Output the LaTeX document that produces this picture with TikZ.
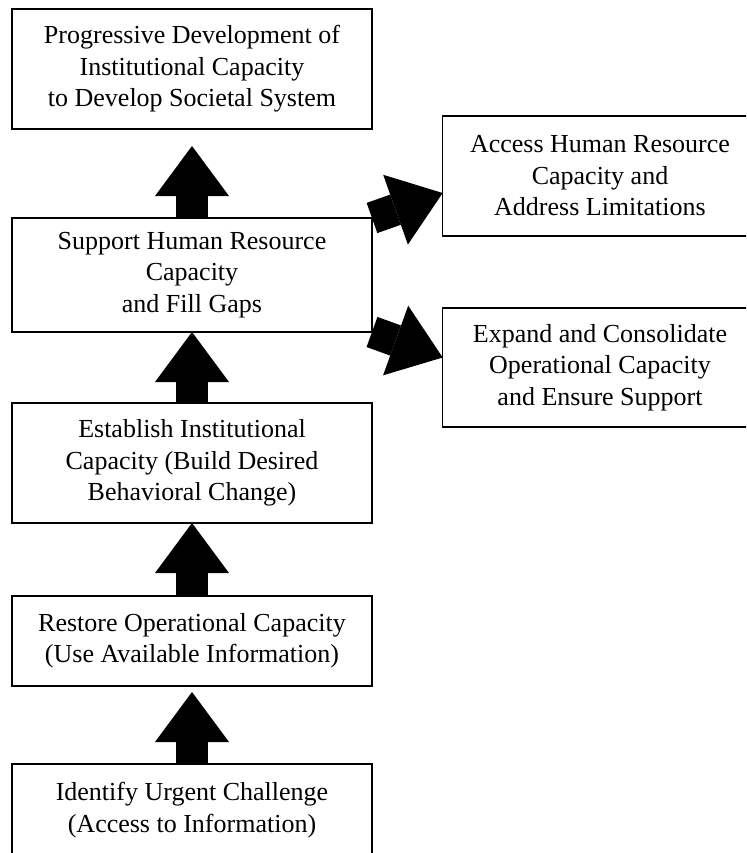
\documentclass[tikz,border=0pt]{standalone}
\usepackage{fontspec}
\setmainfont{Liberation Serif}
\usetikzlibrary{arrows.meta,positioning}

\begin{document}
\begin{tikzpicture}[x=.75pt, y=-.75pt,
    box/.style={draw, line width=1.2pt, inner sep=0pt, outer sep=0pt,
      minimum width=270pt, align=center,
      font=\fontsize{19.5}{23.6}\selectfont},
    side/.style={box, minimum width=236pt},
    fat/.style={line width=24pt,
      -{Triangle[width=55.5pt, length=37.5pt, line width=0pt]}}]

  \useasboundingbox (0, 0) rectangle (746, 853);
  \clip (0, 0) rectangle (746, 853);

  \def\left{192}
  \def\right{600}

  % main column
  \node[box, minimum height=90pt]   (prog)  at (\left, 69)
    {Progressive Development of\\Institutional Capacity\\to Develop Societal System};
  \node[box, minimum height=85.5pt] (sup)   at (\left, 275)
    {Support Human Resource\\Capacity\\and Fill Gaps};
  \node[box, minimum height=90pt]   (est)   at (\left, 463)
    {Establish Institutional\\Capacity (Build Desired\\Behavioral Change)};
  \node[box, minimum height=67.5pt] (rest)  at (\left, 641)
    {Restore Operational Capacity\\(Use Available Information)};
  \node[box, minimum height=69pt]   (ident) at (\left, 810)
    {Identify Urgent Challenge\\(Access to Information)};

  % side boxes
  \node[side, minimum height=90pt]    (acc) at (\right, 176)
    {Access Human Resource\\Capacity and\\Address Limitations};
  \node[side, minimum height=89.25pt] (exp) at (\right, 367.5)
    {Expand and Consolidate\\Operational Capacity\\and Ensure Support};

  \coordinate (acctip) at ([yshift=-12.75pt]acc.west);
  \coordinate (exptip) at ([yshift=7.5pt]exp.west);

  % arrows
  \draw[fat, shorten >=12.75pt] (sup.north)   -- (prog.south);
  \draw[fat]                    (est.north)   -- (sup.south);
  \draw[fat]                    (rest.north)  -- (est.south);
  \draw[fat, shorten >=4.5pt]   (ident.north) -- (rest.south);

  \draw[fat] (sup.north east) -- (acctip);
  \draw[fat] (sup.south east) -- (exptip);

\end{tikzpicture}
\end{document}
